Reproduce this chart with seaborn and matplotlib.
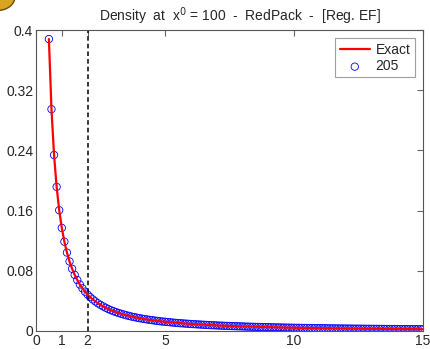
import matplotlib
matplotlib.use('Agg')
import matplotlib.pyplot as plt
import numpy as np
import seaborn as sns

# grille en x (0.5 .. 15, pas 0.1)
x_grid = np.round(np.linspace(0.5, 15.0, 146), 1)

# densite
density = [
    0.388, 0.2948, 0.2339, 0.1915, 0.1605, 0.137, 0.1187, 0.1042, 0.0924, 0.0827,
    0.0746, 0.0677, 0.0618, 0.0567, 0.0523, 0.0484, 0.0450, 0.0420, 0.0393, 0.0368,
    0.0347, 0.0327, 0.0309, 0.0292, 0.0277, 0.0264, 0.0251, 0.0239, 0.0229, 0.0219,
    0.0209, 0.0201, 0.0192, 0.0185, 0.0178, 0.0171, 0.0165, 0.0159, 0.0154, 0.0148,
    0.0144, 0.0139, 0.0134, 0.0130, 0.0126, 0.0123, 0.0119, 0.0116, 0.0112, 0.0109,
    0.0106, 0.0103, 0.0101, 0.0098, 0.0096, 0.0093, 0.0091, 0.0089, 0.0087, 0.0085,
    0.0083, 0.0081, 0.0079, 0.0077, 0.0076, 0.0074, 0.0072, 0.0071, 0.0069, 0.0068,
    0.0067, 0.0065, 0.0064, 0.0063, 0.0062, 0.0061, 0.0059, 0.0058, 0.0057, 0.0056,
    0.0055, 0.0054, 0.0053, 0.0052, 0.0052, 0.0051, 0.0050, 0.0049, 0.0048, 0.0048,
    0.0047, 0.0046, 0.0045, 0.0045, 0.0044, 0.0043, 0.00427, 0.00421, 0.00414, 0.00408,
    0.00403, 0.00397, 0.00391, 0.00386, 0.00381, 0.00376, 0.00370, 0.00366, 0.00361, 0.00356,
    0.00351, 0.00347, 0.00342, 0.00338, 0.00334, 0.00330, 0.00325, 0.00322, 0.00318, 0.00314,
    0.00310, 0.00306, 0.00303, 0.00299, 0.00296, 0.00292, 0.00289, 0.00286, 0.00282, 0.00279,
    0.00276, 0.00273, 0.00270, 0.00267, 0.00264, 0.00262, 0.00259, 0.00256, 0.00253, 0.00251,
    0.00248, 0.00246, 0.00243, 0.00241, 0.00238, 0.00236,
]

x_ticks = [0, 1, 2, 5, 10, 15]
y_ticks = [0, 0.08, 0.16, 0.24, 0.32, 0.4]
y_tick_labels = ['0', '0.08', '0.16', '0.24', '0.32', '0.4']
x_ref = 2

sns.set_style('white')
plt.rcParams['font.family'] = ['Liberation Sans', 'DejaVu Sans']

fig = plt.figure(figsize=(4.3, 3.49), dpi=100)
ax = fig.add_axes([0.0837, 0.0516, 0.9, 0.8624])

sns.lineplot(x=x_grid, y=density, color='red', linewidth=1.6, ax=ax, label='Exact')
sns.scatterplot(x=x_grid, y=density, marker='o', s=28, facecolors='none',
                edgecolor='blue', linewidth=0.6, ax=ax, label='205')
ax.axvline(x_ref, color='black', linestyle='--', linewidth=1.1, dashes=(3, 2))

ax.set_xlim(0, 15)
ax.set_ylim(0, 0.4)
ax.set_xticks(x_ticks)
ax.set_yticks(y_ticks)
ax.set_yticklabels(y_tick_labels)
ax.tick_params(direction='in', top=True, right=True, labelsize=10, length=4,
               color='#666666', pad=2)
for sp in ax.spines.values():
    sp.set_color('#555555')
    sp.set_linewidth(0.8)

leg = ax.legend(loc='upper right', fontsize=10, frameon=True, fancybox=False,
                borderpad=0.3, handlelength=2.2, handletextpad=0.4,
                labelspacing=0.2, borderaxespad=0.6)
leg.get_frame().set_edgecolor('#888888')
leg.get_frame().set_linewidth(0.8)

fig.text(240 / 430, 1 - 16 / 349, r'Density  at  x$^0$ = 100  -  RedPack  -  [Reg. EF]',
         ha='center', va='center', fontsize=10)

# petit logo dore en haut a gauche
coin = plt.Circle((-0.005, 1.01), 0.04, transform=fig.transFigure, facecolor='#d9a520',
                  edgecolor='#6b4a10', linewidth=1.0, clip_on=False)
fig.patches.append(coin)

plt.savefig('out.png', dpi=100)
